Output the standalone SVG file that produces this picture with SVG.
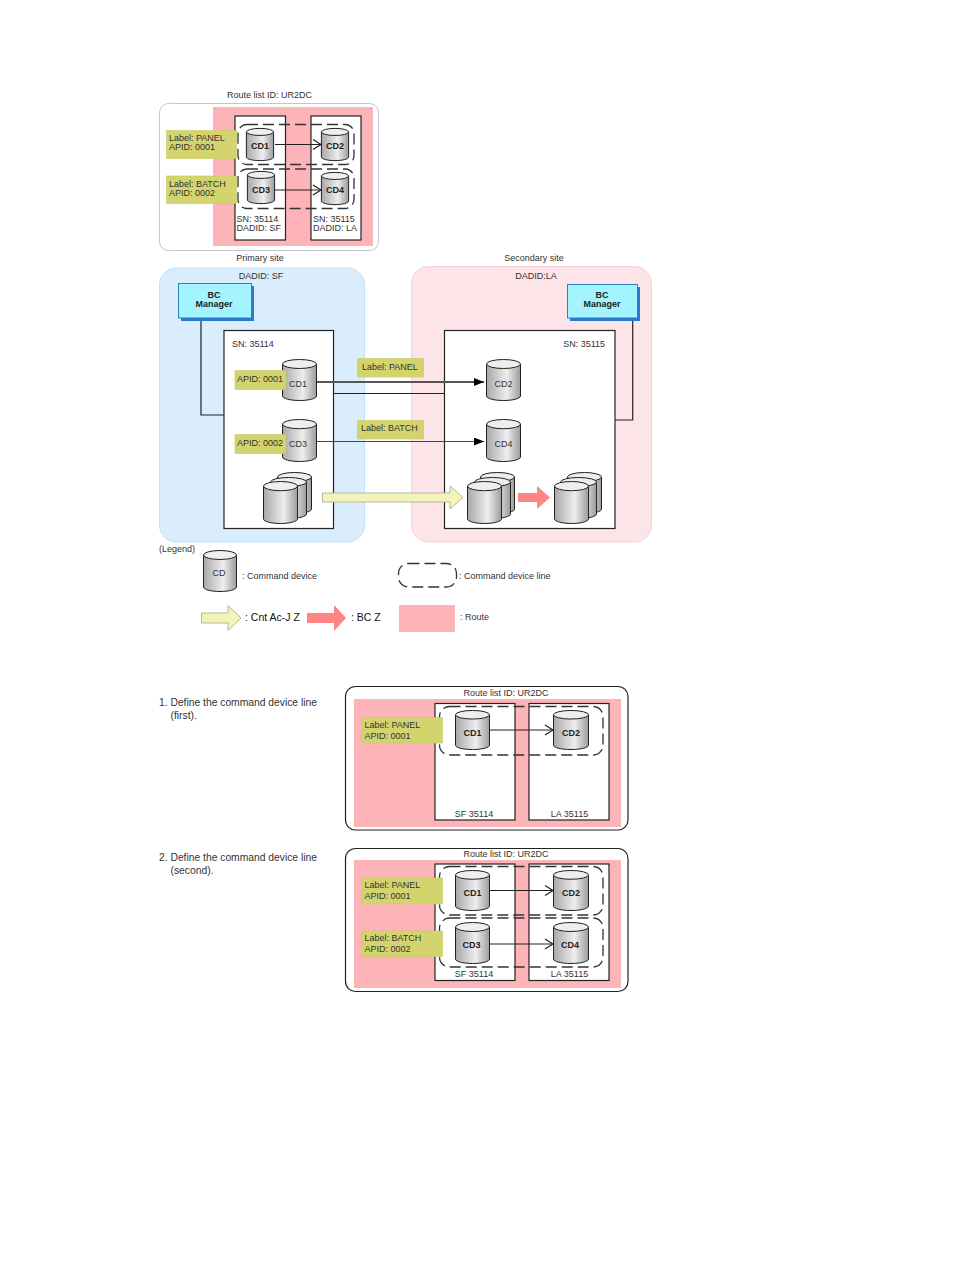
<svg xmlns="http://www.w3.org/2000/svg" xmlns:xlink="http://www.w3.org/1999/xlink" width="954" height="1270" viewBox="0 0 954 1270">
<style>
text{font-family:"Liberation Sans",Arial,sans-serif;font-size:9px;fill:#333}
.b{font-weight:bold;fill:#222}
.m{text-anchor:middle}
.step{font-size:10.3px}
.leg{font-size:10.500px;fill:#111}
.route{fill:#fdb4b8}
.box{fill:#fff;stroke:#222;stroke-width:1.2}
.dash{fill:none;stroke:#333;stroke-width:1.3;stroke-dasharray:11 5}
.lab{fill:#d4d46e;stroke:#c8c860;stroke-width:.6}
.ln{fill:none;stroke:#222;stroke-width:1.2}
.arr{stroke:#222;stroke-width:1.2;fill:none;marker-end:url(#open)}
.bc{fill:#a4f4ff;stroke:#2a7fc8;stroke-width:1}
.bcs{fill:#2a78d0}
.ya{fill:#f4f4ba;stroke:#b8b89c;stroke-width:1}
.ra{fill:#ff8484}
.cs{fill:url(#cg);stroke:#222;stroke-width:1;vector-effect:non-scaling-stroke}
.ct{fill:#eee;stroke:#222;stroke-width:1;vector-effect:non-scaling-stroke}
</style>
<defs>
<linearGradient id="cg"><stop offset="0" stop-color="#a8a8a8"/><stop offset=".6" stop-color="#eeeeee"/><stop offset="1" stop-color="#9c9c9c"/></linearGradient>
<marker id="open" markerUnits="userSpaceOnUse" markerWidth="12" markerHeight="12" refX="10" refY="6" orient="auto"><path d="M2 1 10 6 2 11" fill="none" stroke="#222" stroke-width="1.2"/></marker>
<marker id="solid" markerUnits="userSpaceOnUse" markerWidth="12" markerHeight="10" refX="10" refY="4" orient="auto"><path d="M0 0 10 4 0 8z" fill="#000"/></marker>
<symbol id="cyl" viewBox="0 0 35 42" preserveAspectRatio="none" overflow="visible">
<path class="cs" d="M.5 5V37C.5 39.5 8 41.5 17.5 41.5S34.5 39.5 34.5 37V5z"/>
<ellipse class="ct" cx="17.5" cy="5" rx="17" ry="4.5"/>
</symbol>
</defs>

<g id="top-panel">
<rect x="159.500" y="103.500" width="219" height="147" rx="9" fill="#fff" stroke="#c9c3d2"/>
<rect class="route" x="213" y="107" width="160" height="139"/>
<rect class="box" x="235" y="116" width="50.500" height="124"/>
<rect class="box" x="311" y="116" width="50" height="124"/>
<text x="269.500" y="98" class="m">Route list ID: UR2DC</text>
<text x="260" y="260.500" class="m">Primary site</text>
<text x="236.500" y="222">SN: 35114</text>
<text x="236.500" y="231">DADID: SF</text>
<text x="313" y="222">SN: 35115</text>
<text x="313" y="231">DADID: LA</text>
</g>
<g id="top-cd1"><use href="#cyl" x="246" y="128" width="28" height="33"/><text x="260" y="149" class="b m">CD1</text></g>
<g id="top-cd2"><use href="#cyl" x="321" y="128" width="28" height="33"/><text x="335" y="149" class="b m">CD2</text></g>
<g id="top-cd3"><use href="#cyl" x="247" y="171" width="28" height="33"/><text x="261" y="193" class="b m">CD3</text></g>
<g id="top-cd4"><use href="#cyl" x="321" y="172" width="28" height="33"/><text x="335" y="193" class="b m">CD4</text></g>
<g id="top-connectors">
<rect class="dash" x="238" y="124.500" width="116" height="40" rx="9"/>
<rect class="dash" x="238" y="169" width="116" height="39.500" rx="9"/>
<line class="arr" x1="275" y1="144.500" x2="321" y2="144.500"/>
<line class="arr" x1="275" y1="190" x2="321" y2="190"/>
</g>
<g id="top-label-1"><rect class="lab" x="166.500" y="130.500" width="70" height="28"/><text x="169" y="141">Label: PANEL</text><text x="169" y="150">APID: 0001</text></g>
<g id="top-label-2"><rect class="lab" x="166.500" y="176" width="70" height="27.500"/><text x="169" y="187">Label: BATCH</text><text x="169" y="196">APID: 0002</text></g>

<g id="site-primary">
<rect x="159.500" y="268" width="205" height="274" rx="17" fill="#daedfd" stroke="#bfe0f8"/>
<text x="261" y="278.500" class="m">DADID: SF</text>
<rect class="box" x="224" y="330.500" width="109.500" height="198"/>
<text x="232" y="347">SN: 35114</text>
</g>
<g id="site-secondary">
<text x="534" y="260.500" class="m">Secondary site</text>
<rect x="411.500" y="266.500" width="240" height="275.500" rx="17" fill="#fde4e8" stroke="#fbcfd6"/>
<text x="536" y="278.500" class="m">DADID:LA</text>
<rect class="box" x="444.500" y="330.500" width="170.500" height="198"/>
<text x="605" y="347" text-anchor="end">SN: 35115</text>
</g>
<g id="connectors">
<path class="ln" d="M201 318V415H224"/>
<path class="ln" d="M632.700 318V420H615"/>
<line x1="333" y1="393.500" x2="444" y2="393.500" class="ln"/>
<line x1="317" y1="382" x2="484" y2="382" stroke="#555" stroke-width="1.800" marker-end="url(#solid)"/>
<line x1="317" y1="441.500" x2="484" y2="441.500" stroke="#444" stroke-width="1" marker-end="url(#solid)"/>
</g>
<g id="bc-left"><rect class="bcs" x="181" y="286" width="73" height="35"/><rect class="bc" x="178.500" y="283.500" width="73" height="34.500"/><text x="214" y="298" class="b m">BC</text><text x="214" y="307" class="b m">Manager</text></g>
<g id="bc-right"><rect class="bcs" x="570" y="287" width="70" height="34"/><rect class="bc" x="567.500" y="284.500" width="70" height="33.500"/><text x="602" y="298" class="b m">BC</text><text x="602" y="307" class="b m">Manager</text></g>
<g id="cd1"><use href="#cyl" x="282" y="359" width="35" height="42"/><text x="298" y="387" class="m">CD1</text></g>
<g id="cd3"><use href="#cyl" x="282" y="419" width="35" height="43"/><text x="298" y="447" class="m">CD3</text></g>
<g id="cd2"><use href="#cyl" x="486" y="359" width="35" height="42"/><text x="503.500" y="386.500" class="m">CD2</text></g>
<g id="cd4"><use href="#cyl" x="486" y="419" width="35" height="43"/><text x="503.500" y="446.500" class="m">CD4</text></g>
<g id="label-panel"><rect class="lab" x="357.500" y="358.500" width="66" height="18.500"/><text x="362" y="370">Label: PANEL</text></g>
<g id="label-batch"><rect class="lab" x="357.500" y="420.500" width="66" height="18.500"/><text x="361" y="431">Label: BATCH</text></g>
<g id="apid-1"><rect class="lab" x="235" y="370.500" width="51" height="19"/><text x="237" y="382">APID: 0001</text></g>
<g id="apid-2"><rect class="lab" x="235" y="434.500" width="51" height="19"/><text x="237" y="446">APID: 0002</text></g>
<g id="stack-1"><use href="#cyl" x="277" y="472" width="35" height="42"/><use href="#cyl" x="270" y="477" width="37" height="42"/><use href="#cyl" x="263" y="481" width="35" height="43"/></g>
<g id="stack-2"><use href="#cyl" x="480" y="472" width="35" height="42"/><use href="#cyl" x="474" y="477" width="37" height="42"/><use href="#cyl" x="467" y="481" width="35" height="43"/></g>
<g id="stack-3"><use href="#cyl" x="567" y="472" width="35" height="42"/><use href="#cyl" x="560" y="477" width="37" height="42"/><use href="#cyl" x="554" y="481" width="35" height="43"/></g>
<path id="arrow-cntacj" class="ya" d="M322.500 493H450V486L463 497.500 450 509V502H322.500z"/>
<path id="arrow-bcz" class="ra" d="M518 493H537V486L550 497.500 537 509V502H518z"/>

<g id="legend">
<text x="159" y="552">(Legend)</text>
<use href="#cyl" x="203" y="550" width="34" height="42"/>
<text x="219" y="576" class="m">CD</text>
<text x="242" y="579">: Command device</text>
<rect class="dash" x="398.500" y="563.500" width="58" height="23.500" rx="10"/>
<text x="459" y="579">: Command device line</text>
<path class="ya" d="M201.500 613H228V605.500L241 618 228 630.500V623H201.500z"/>
<text x="245" y="621" class="leg">: Cnt Ac-J Z</text>
<path class="ra" d="M307 613H334V605L346 618 334 631V623H307z"/>
<text x="351" y="621" class="leg">: BC Z</text>
<rect class="route" x="399" y="605" width="56" height="27"/>
<text x="460" y="620">: Route</text>
</g>

<g id="step-1-text"><text x="159" y="706" class="step">1. Define the command device line</text><text x="170.500" y="719" class="step">(first).</text></g>
<g id="step-1">
<rect x="345.500" y="686.500" width="282.500" height="143.500" rx="10" fill="#fff" stroke="#222" stroke-width="1.200"/>
<rect class="route" x="354" y="699" width="267" height="128"/>
<rect class="box" x="435" y="703.500" width="80" height="116.500"/>
<rect class="box" x="529" y="703.500" width="80" height="116.500"/>
<text x="506" y="696" class="m">Route list ID: UR2DC</text>
<text x="474" y="817" class="m">SF 35114</text>
<text x="569.500" y="817" class="m">LA 35115</text>
<use href="#cyl" x="455" y="710" width="35" height="40"/><text x="472.500" y="736" class="b m">CD1</text>
<use href="#cyl" x="553" y="710" width="36" height="40"/><text x="571" y="736" class="b m">CD2</text>
<rect class="dash" x="439.500" y="706.500" width="163.500" height="48.500" rx="10"/>
<line class="arr" x1="490" y1="730" x2="553" y2="730"/>
<rect class="lab" x="362" y="717.500" width="80.500" height="25.500"/>
<text x="364.500" y="728">Label: PANEL</text><text x="364.500" y="739">APID: 0001</text>
</g>

<g id="step-2-text"><text x="159" y="861" class="step">2. Define the command device line</text><text x="170.500" y="874" class="step">(second).</text></g>
<g id="step-2">
<rect x="345.500" y="848.500" width="282.500" height="143" rx="10" fill="#fff" stroke="#222" stroke-width="1.200"/>
<rect class="route" x="354" y="860" width="267" height="128"/>
<rect class="box" x="435" y="864" width="80" height="116.500"/>
<rect class="box" x="529" y="864" width="80" height="116.500"/>
<text x="506" y="857" class="m">Route list ID: UR2DC</text>
<text x="474" y="977" class="m">SF 35114</text>
<text x="569.500" y="977" class="m">LA 35115</text>
<use href="#cyl" x="455" y="870" width="35" height="41"/><text x="472.500" y="896" class="b m">CD1</text>
<use href="#cyl" x="553" y="870" width="36" height="41"/><text x="571" y="896" class="b m">CD2</text>
<use href="#cyl" x="455" y="922" width="35" height="42"/><text x="471.500" y="948" class="b m">CD3</text>
<use href="#cyl" x="553" y="922" width="36" height="42"/><text x="570" y="948" class="b m">CD4</text>
<rect class="dash" x="439.500" y="866.500" width="163.500" height="48.500" rx="10"/>
<rect class="dash" x="439.500" y="918" width="163.500" height="49" rx="10"/>
<line class="arr" x1="490" y1="890.500" x2="553" y2="890.500"/>
<line class="arr" x1="490" y1="944" x2="553" y2="944"/>
<rect class="lab" x="362" y="878" width="80.500" height="26"/>
<text x="364.500" y="888">Label: PANEL</text><text x="364.500" y="899">APID: 0001</text>
<rect class="lab" x="362" y="931" width="80.500" height="25.500"/>
<text x="364.500" y="941">Label: BATCH</text><text x="364.500" y="952">APID: 0002</text>
</g>
</svg>
